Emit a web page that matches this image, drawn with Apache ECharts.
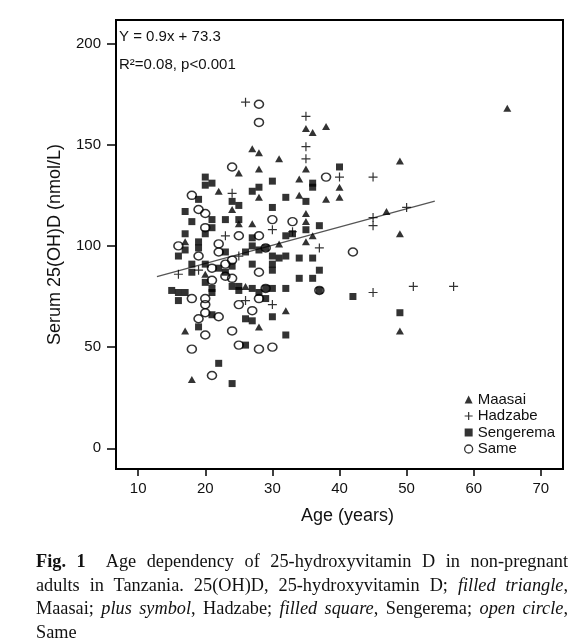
<!DOCTYPE html>
<html><head><meta charset="utf-8">
<script src="https://cdn.jsdelivr.net/npm/echarts@6/dist/echarts.min.js"></script>
<style>
body{margin:0;background:#fff;}
#chart{position:absolute;left:0;top:0;width:587px;height:644px;}
#cap{position:absolute;left:36px;top:550px;width:532px;font-family:"Liberation Serif","Times New Roman",serif;font-size:18.3px;line-height:23.5px;color:#111;}
#cap div.j{text-align:justify;text-align-last:justify;white-space:nowrap;}
</style></head><body>
<div id="chart"></div>
<div id="cap">
<div class="j"><b>Fig. 1</b>&nbsp; Age dependency of 25-hydroxyvitamin D in non-pregnant</div>
<div class="j">adults in Tanzania. 25(OH)D, 25-hydroxyvitamin D; <i>filled triangle</i>,</div>
<div class="j">Maasai; <i>plus symbol</i>, Hadzabe; <i>filled square</i>, Sengerema; <i>open circle</i>,</div>
<div>Same</div>
</div>
<script>
// [age (years), serum 25(OH)D (nmol/L)]
const maasai = [[17,102],[17,58],[18,34],[20,86],[22,127],[24,118],[25,136],[25,111],[26,80],[27,148],[27,111],[28,146],[28,138],[28,124],[28,60],[31,143],[31,101],[32,68],[34,133],[34,125],[35,158],[35,138],[35,116],[35,112],[35,102],[36,156],[36,105],[38,159],[38,123],[40,129],[40,124],[47,117],[49,142],[49,106],[49,58],[65,168]];
const hadzabe = [[16,86],[19,88],[23,105],[24,126],[25,95],[26,171],[26,73],[30,108],[30,71],[33,107],[35,164],[35,149],[35,143],[37,99],[40,134],[45,134],[45,114],[45,110],[45,77],[50,119],[51,80],[57,80]];
const sengerema = [[15,78],[16,95],[16,77],[16,73],[17,117],[17,106],[17,98],[17,77],[18,112],[18,91],[18,87],[19,123],[19,102],[19,99],[19,60],[20,134],[20,130],[20,106],[20,91],[20,82],[21,131],[21,113],[21,109],[21,79],[21,77],[21,66],[22,89],[22,42],[23,113],[23,97],[23,87],[24,122],[24,90],[24,80],[24,32],[25,120],[25,113],[25,80],[25,78],[26,97],[26,64],[26,51],[27,127],[27,104],[27,100],[27,91],[27,79],[27,63],[28,129],[28,98],[28,77],[29,74],[29,99],[29,79],[30,132],[30,119],[30,95],[30,91],[30,88],[30,79],[30,65],[31,94],[32,124],[32,105],[32,95],[32,79],[32,56],[33,106],[34,94],[34,84],[35,122],[35,108],[36,131],[36,129],[36,94],[36,84],[37,110],[37,88],[37,78],[40,139],[42,75],[49,67]];
const same = [[16,100],[18,125],[18,74],[18,49],[19,118],[19,95],[19,64],[20,116],[20,109],[20,74],[20,71],[20,67],[20,56],[21,89],[21,83],[21,36],[22,101],[22,97],[22,65],[23,91],[23,85],[24,139],[24,93],[24,84],[24,58],[25,105],[25,71],[25,51],[27,68],[28,170],[28,161],[28,105],[28,87],[28,74],[28,49],[29,99],[29,79],[30,113],[30,50],[33,112],[37,78],[38,134],[42,97]];
const regAge = [12.8, 54.2];
const regVit = [84.8, 122.1];
const xTicks = [10,20,30,40,50,60,70];
const yTicks = [0,50,100,150,200];
const equationText = 'Y = 0.9x + 73.3';
const statText = 'R\u00b2=0.08, p<0.001';

const FONT = '"Liberation Sans", Arial, sans-serif';
const chart = echarts.init(document.getElementById('chart'), null, {renderer:'canvas'});
const axisCommon = {
  type:'value', splitLine:{show:false}, axisLine:{show:false, onZero:false},
  nameLocation:'middle'
};
const plusPath = 'path://M0,5L10,5M5,0L5,10';
chart.setOption({
  animation:false,
  backgroundColor:'#fff',
  grid:{left:116, top:20, right:24, bottom:175, show:true, borderColor:'#000', borderWidth:2, backgroundColor:'transparent'},
  xAxis:Object.assign({}, axisCommon, {
    min:6.7, max:73.3,
    axisTick:{show:true, customValues:xTicks, length:7, lineStyle:{color:'#000', width:1.5}},
    axisLabel:{customValues:xTicks, margin:12, fontSize:15, color:'#111', fontFamily:FONT},
    name:'Age (years)', nameGap:38,
    nameTextStyle:{fontSize:18, color:'#111', fontFamily:FONT, padding:[0,0,0,16]}
  }),
  yAxis:Object.assign({}, axisCommon, {
    min:-10.2, max:211.6,
    axisTick:{show:true, customValues:yTicks, length:9, lineStyle:{color:'#000', width:1.5}},
    axisLabel:{customValues:yTicks, margin:15, fontSize:15, color:'#111', fontFamily:FONT},
    name:'Serum 25(OH)D (nmol/L)', nameGap:52,
    nameTextStyle:{fontSize:18, color:'#111', fontFamily:FONT}
  }),
  legend:{
    orient:'vertical', left:459, top:387, itemWidth:8, itemHeight:8, itemGap:1.5,
    textStyle:{fontSize:15, color:'#111', fontFamily:FONT},
    data:[
      {name:'Maasai', icon:'triangle', itemStyle:{color:'#000'}},
      {name:'Hadzabe', icon:plusPath, itemStyle:{color:'transparent', borderColor:'#000', borderWidth:1.2}},
      {name:'Sengerema', icon:'rect', itemStyle:{color:'#000'}},
      {name:'Same', icon:'circle', itemStyle:{color:'transparent', borderColor:'#000', borderWidth:1.3}}
    ],
    selectedMode:false
  },
  graphic:[
    {type:'text', left:119, top:29, style:{text:equationText, font:'15px "Liberation Sans"', fill:'#111'}},
    {type:'text', left:119, top:57, style:{text:statText, font:'15px "Liberation Sans"', fill:'#111'}}
  ],
  series:[
    {type:'scatter', name:'Maasai', data:maasai, symbol:'triangle', symbolSize:[8,7], itemStyle:{color:'#000'}},
    {type:'scatter', name:'Hadzabe', data:hadzabe, symbol:plusPath, symbolSize:9,
      itemStyle:{color:'transparent', borderColor:'#000', borderWidth:1.2}},
    {type:'scatter', name:'Sengerema', data:sengerema, symbol:'rect', symbolSize:7, itemStyle:{color:'#000'}},
    {type:'scatter', name:'Same', data:same, symbol:'circle', symbolSize:[9,8],
      itemStyle:{color:'transparent', borderColor:'#000', borderWidth:1.5}},
    {type:'line', data:regAge.map((a,i)=>[a, regVit[i]]), symbol:'none', silent:true,
      lineStyle:{color:'#555', width:1.2}, z:1}
  ]
});
</script>
</body></html>
